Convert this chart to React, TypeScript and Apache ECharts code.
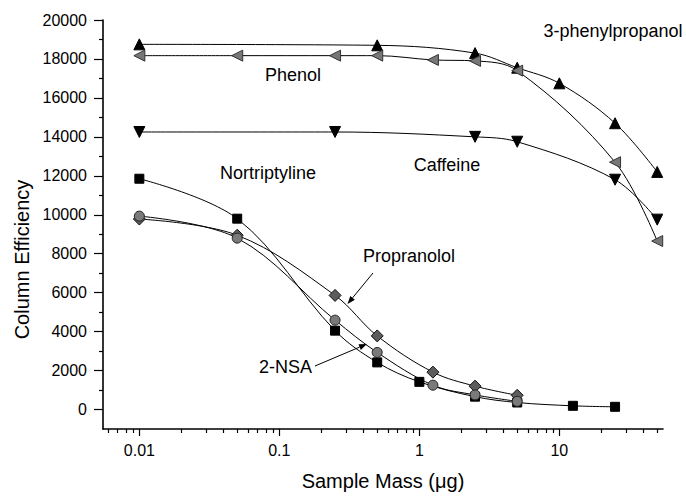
import React, { useEffect, useRef } from "react";
import * as echarts from "echarts";

// ---- data (sample mass in µg, column efficiency) ----
const massPhenylpropanol = [0.01, 0.5, 2.5, 5, 10, 25, 50];
const effPhenylpropanol = [18750, 18700, 18300, 17550, 16750, 14700, 12200];

const massPhenol = [0.01, 0.05, 0.25, 0.5, 1.25, 2.5, 5, 25, 50];
const effPhenol = [18170, 18170, 18170, 18170, 17950, 17900, 17400, 12700, 8650];

const massCaffeine = [0.01, 0.25, 2.5, 5, 25, 50];
const effCaffeine = [14250, 14250, 14000, 13750, 11800, 9750];

const massNortriptyline = [0.01, 0.05, 0.25, 0.5, 1, 2.5, 5, 12.5, 25];
const effNortriptyline = [11850, 9800, 4050, 2420, 1420, 660, 360, 190, 140];

const massPropranolol = [0.01, 0.05, 0.25, 0.5, 1.25, 2.5, 5];
const effPropranolol = [9780, 8950, 5860, 3780, 1920, 1200, 730];

const mass2NSA = [0.01, 0.05, 0.25, 0.5, 1.25, 2.5, 5];
const eff2NSA = [9930, 8800, 4590, 2930, 1250, 750, 420];

// ---- axes ----
const xMin = 0.0055;
const xMax = 55;
const xMajor = [0.01, 0.1, 1, 10];
const xMinor = [
  0.006, 0.007, 0.008, 0.009,
  0.02, 0.03, 0.04, 0.05, 0.06, 0.07, 0.08, 0.09,
  0.2, 0.3, 0.4, 0.5, 0.6, 0.7, 0.8, 0.9,
  2, 3, 4, 5, 6, 7, 8, 9,
  20, 30, 40, 50,
];
const yMin = -1000;
const yMax = 20000;
const yMajor = [0, 2000, 4000, 6000, 8000, 10000, 12000, 14000, 16000, 18000, 20000];
const yMinor = [1000, 3000, 5000, 7000, 9000, 11000, 13000, 15000, 17000, 19000];

const FONT = "'Liberation Sans', Arial, Helvetica, sans-serif";

const lg = (v: number) => Math.log10(v);
const pts = (m: number[], v: number[]) => m.map((x, i) => [lg(x), v[i]]);

function series(
  name: string,
  m: number[],
  v: number[],
  symbol: string,
  size: number,
  fill: string,
  border: string,
  rotate = 0
) {
  return {
    name,
    type: "line",
    data: pts(m, v),
    smooth: 0.35,
    symbol,
    symbolSize: size,
    symbolRotate: rotate,
    showSymbol: true,
    silent: true,
    lineStyle: { color: "#000", width: 1 },
    itemStyle: { color: fill, borderColor: border, borderWidth: 1 },
    emphasis: { disabled: true },
  };
}

function arrow(x1: number, y1: number, x2: number, y2: number) {
  const ang = Math.atan2(y2 - y1, x2 - x1);
  const L = 8;
  const W = 3;
  const bx = x2 - L * Math.cos(ang);
  const by = y2 - L * Math.sin(ang);
  const nx = -Math.sin(ang);
  const ny = Math.cos(ang);
  return [
    {
      type: "line",
      shape: { x1, y1, x2: bx, y2: by },
      style: { stroke: "#000", lineWidth: 1 },
      silent: true,
    },
    {
      type: "polygon",
      shape: {
        points: [
          [x2, y2],
          [bx + nx * W, by + ny * W],
          [bx - nx * W, by - ny * W],
        ],
      },
      style: { fill: "#000" },
      silent: true,
    },
  ];
}

function label(text: string, x: number, y: number) {
  return {
    type: "text",
    x,
    y,
    silent: true,
    style: {
      text,
      fontSize: 18,
      fontFamily: FONT,
      fill: "#000",
      align: "center",
      verticalAlign: "middle",
    },
  };
}

export default function App() {
  const ref = useRef<HTMLDivElement>(null);

  useEffect(() => {
    if (!ref.current) return;
    const chart = echarts.init(ref.current, undefined, { renderer: "svg" });

    const xFmt = (v: number) => {
      const i = xMajor.findIndex((m) => Math.abs(lg(m) - v) < 1e-6);
      return i >= 0 ? String(xMajor[i]) : "";
    };

    const option: any = {
      animation: false,
      backgroundColor: "#fff",
      grid: { left: 103, right: 23, top: 20, bottom: 63 },
      xAxis: [
        {
          type: "value",
          position: "bottom",
          min: lg(xMin),
          max: lg(xMax),
          axisLine: { show: true, onZero: false, lineStyle: { color: "#000", width: 1.6 } },
          axisTick: {
            show: true,
            customValues: xMajor.map(lg),
            length: 7,
            lineStyle: { color: "#000", width: 1.2 },
          },
          axisLabel: {
            show: true,
            customValues: xMajor.map(lg),
            formatter: xFmt,
            fontSize: 16,
            fontFamily: FONT,
            color: "#000",
            margin: 13,
          },
          splitLine: { show: false },
          name: "Sample Mass (\u03bcg)",
          nameLocation: "middle",
          nameGap: 42,
          nameTextStyle: { fontSize: 20, fontFamily: FONT, color: "#000" },
        },
        {
          type: "value",
          position: "bottom",
          min: lg(xMin),
          max: lg(xMax),
          axisLine: { show: false, onZero: false },
          axisTick: {
            show: true,
            customValues: xMinor.map(lg),
            length: 4,
            lineStyle: { color: "#000", width: 1.2 },
          },
          axisLabel: { show: false },
          splitLine: { show: false },
        },
      ],
      yAxis: [
        {
          type: "value",
          position: "left",
          min: yMin,
          max: yMax,
          axisLine: { show: true, onZero: false, lineStyle: { color: "#000", width: 1.6 } },
          axisTick: {
            show: true,
            customValues: yMajor,
            length: 9,
            lineStyle: { color: "#000", width: 1.2 },
          },
          axisLabel: {
            show: true,
            customValues: yMajor,
            formatter: (v: number) => String(v),
            fontSize: 16,
            fontFamily: FONT,
            color: "#000",
            margin: 16,
          },
          splitLine: { show: false },
          name: "Column Efficiency",
          nameLocation: "middle",
          nameGap: 70,
          nameTextStyle: {
            fontSize: 20,
            fontFamily: FONT,
            color: "#000",
            padding: [0, 70, 0, 0],
          },
        },
        {
          type: "value",
          position: "left",
          min: yMin,
          max: yMax,
          axisLine: { show: false, onZero: false },
          axisTick: {
            show: true,
            customValues: yMinor,
            length: 4,
            lineStyle: { color: "#000", width: 1.2 },
          },
          axisLabel: { show: false },
          splitLine: { show: false },
        },
      ],
      series: [
        series("3-phenylpropanol", massPhenylpropanol, effPhenylpropanol, "triangle", 11, "#000", "#000"),
        series("Phenol", massPhenol, effPhenol, "triangle", 11, "#777", "#333", 90),
        series("Caffeine", massCaffeine, effCaffeine, "triangle", 11, "#000", "#000", 180),
        series("Nortriptyline", massNortriptyline, effNortriptyline, "rect", 9, "#000", "#000"),
        series("Propranolol", massPropranolol, effPropranolol, "diamond", 12, "#5c5c5c", "#111"),
        series("2-NSA", mass2NSA, eff2NSA, "circle", 10, "#7a7a7a", "#222"),
      ],
      graphic: [
        label("3-phenylpropanol", 613, 31),
        label("Phenol", 293, 75),
        label("Nortriptyline", 268, 172.5),
        label("Caffeine", 447, 165),
        label("Propranolol", 409, 256),
        label("2-NSA", 285.5, 366.5),
        ...arrow(373, 273, 347.5, 304),
        ...arrow(315, 366, 367, 344),
      ],
    };

    chart.setOption(option);
    return () => chart.dispose();
  }, []);

  return (
    <div
      ref={ref}
      style={{
        position: "fixed",
        left: 0,
        top: 0,
        width: 686,
        height: 496,
        background: "#fff",
      }}
    />
  );
}
